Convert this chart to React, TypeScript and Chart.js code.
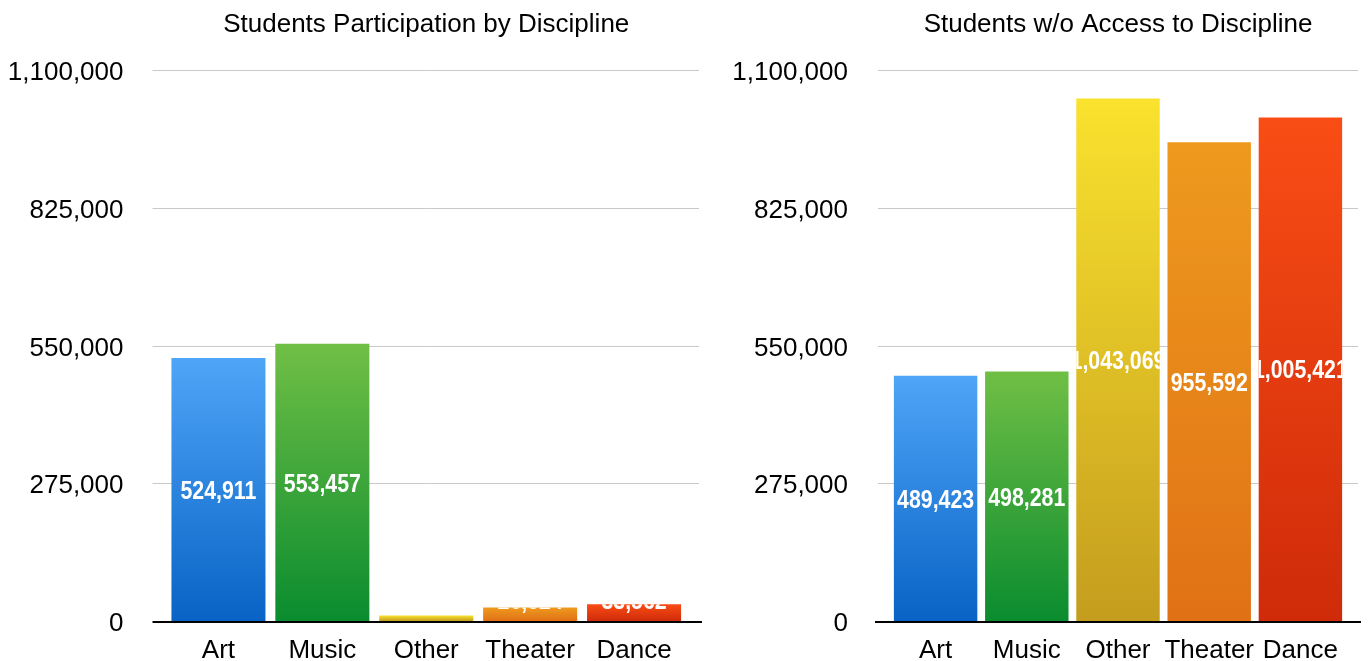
import React, { useEffect, useRef } from "react";
import { Chart, registerables } from "chart.js";

Chart.register(...registerables);

const categories = ["Art", "Music", "Other", "Theater", "Dance"];
const participationValues = [524911, 553457, 10874, 26824, 33562];
const noAccessValues = [489423, 498281, 1043069, 955592, 1005421];
const yTicks = [0, 275000, 550000, 825000, 1100000];
const leftTitle = "Students Participation by Discipline";
const rightTitle = "Students w/o Access to Discipline";
const gradientTops = ["#4FA5F7", "#70BF45", "#FAE22E", "#EE9A1E", "#F94D15"];
const gradientBottoms = ["#0863C5", "#0A8C2F", "#C49D1E", "#E07115", "#CF2B0A"];

const FONT = '"Liberation Sans", Arial, Helvetica, sans-serif';

type PanelCfg = {
  title: string;
  values: number[];
  width: number;
  yWidth: number;
  padRight: number;
  barPct: number;
  gridL: number;
  gridR: number;
  zeroL: number;
  zeroR: number;
  tickPad: number;
};

function makeDecor(cfg: PanelCfg) {
  return {
    id: "decor",
    beforeDatasetsDraw(chart: any) {
      const { ctx, chartArea } = chart;
      const y = chart.scales.y;
      ctx.save();
      ctx.strokeStyle = "#C9C9C9";
      ctx.lineWidth = 1;
      for (const t of yTicks) {
        if (t === 0) continue;
        const py = Math.round(y.getPixelForValue(t)) + 0.5;
        ctx.beginPath();
        ctx.moveTo(chartArea.left - cfg.gridL, py);
        ctx.lineTo(chartArea.right + cfg.gridR, py);
        ctx.stroke();
      }
      // y tick labels
      ctx.fillStyle = "#000";
      ctx.font = `26px ${FONT}`;
      ctx.textAlign = "right";
      ctx.textBaseline = "alphabetic";
      for (const t of yTicks) {
        const py = y.getPixelForValue(t);
        ctx.fillText(t.toLocaleString("en-US"), chartArea.left - cfg.tickPad, py + 10);
      }
      // title
      ctx.textAlign = "center";
      ctx.fillText(cfg.title, (chartArea.left + chartArea.right) / 2, 32);
      ctx.restore();
    },
    afterDatasetsDraw(chart: any) {
      const { ctx, chartArea } = chart;
      const y = chart.scales.y;
      const base = y.getPixelForValue(0);
      ctx.save();
      // zero axis line
      ctx.strokeStyle = "#000";
      ctx.lineWidth = 2;
      ctx.beginPath();
      ctx.moveTo(chartArea.left - cfg.zeroL, Math.round(base) + 1);
      ctx.lineTo(chartArea.right + cfg.zeroR, Math.round(base) + 1);
      ctx.stroke();
      // value labels, clipped to each bar
      const meta = chart.getDatasetMeta(0);
      meta.data.forEach((bar: any, i: number) => {
        const v = cfg.values[i];
        const half = bar.width / 2;
        const top = bar.y;
        const bottom = bar.base;
        ctx.save();
        ctx.beginPath();
        ctx.rect(bar.x - half, top, bar.width, bottom - top);
        ctx.clip();
        const mid = Math.min((top + bottom) / 2, chartArea.bottom - 21);
        ctx.translate(bar.x, mid + 9.3);
        ctx.scale(0.82, 1);
        ctx.fillStyle = "#FFFFFF";
        ctx.font = `bold 26px ${FONT}`;
        ctx.textAlign = "center";
        ctx.textBaseline = "alphabetic";
        ctx.fillText(v.toLocaleString("en-US"), 0, 0);
        ctx.restore();
      });
      ctx.restore();
    },
  };
}

function Panel({ cfg, left }: { cfg: PanelCfg; left: number }) {
  const ref = useRef<HTMLCanvasElement | null>(null);
  useEffect(() => {
    if (!ref.current) return;
    const chart = new Chart(ref.current, {
      type: "bar",
      data: {
        labels: categories,
        datasets: [
          {
            data: cfg.values,
            borderWidth: 0,
            barPercentage: cfg.barPct,
            categoryPercentage: 1,
            backgroundColor: (c: any) => {
              const i = c.dataIndex ?? 0;
              const chart = c.chart;
              const ys = chart.scales && chart.scales.y;
              if (!chart.chartArea || !ys || c.raw === undefined) return gradientTops[i];
              const top = ys.getPixelForValue(c.raw);
              const bottom = ys.getPixelForValue(0);
              if (!isFinite(top) || !isFinite(bottom) || bottom - top < 0.5) return gradientTops[i];
              const g = chart.ctx.createLinearGradient(0, top, 0, bottom);
              g.addColorStop(0, gradientTops[i]);
              g.addColorStop(1, gradientBottoms[i]);
              return g;
            },
          } as any,
        ],
      },
      options: {
        responsive: false,
        animation: false,
        layout: { padding: { top: 70, right: cfg.padRight, left: 0, bottom: 0 } },
        plugins: {
          legend: { display: false },
          tooltip: { enabled: false },
          title: { display: false },
        },
        scales: {
          x: {
            type: "category",
            offset: true,
            grid: { display: false, drawTicks: false },
            border: { display: false },
            ticks: {
              color: "#000",
              font: { family: FONT, size: 26 },
              padding: 14,
              maxRotation: 0,
              autoSkip: false,
            },
            afterFit: (s: any) => {
              s.height = 40;
            },
          },
          y: {
            min: 0,
            max: 1100000,
            grid: { display: false, drawTicks: false },
            border: { display: false },
            ticks: { display: false },
            afterBuildTicks: (s: any) => {
              s.ticks = yTicks.map((v) => ({ value: v }));
            },
            afterFit: (s: any) => {
              s.width = cfg.yWidth;
            },
          },
        },
      } as any,
      plugins: [makeDecor(cfg)],
    });
    return () => chart.destroy();
  }, [cfg]);
  return (
    <div style={{ position: "absolute", left, top: 0, width: cfg.width, height: 661 }}>
      <canvas ref={ref} width={cfg.width} height={661} />
    </div>
  );
}

const leftCfg: PanelCfg = {
  title: leftTitle,
  values: participationValues,
  width: 705,
  yWidth: 166.5,
  padRight: 19,
  barPct: 0.905,
  gridL: 14,
  gridR: 13,
  zeroL: 14,
  zeroR: 16,
  tickPad: 43,
};

const rightCfg: PanelCfg = {
  title: rightTitle,
  values: noAccessValues,
  width: 666,
  yWidth: 185,
  padRight: 25,
  barPct: 0.915,
  gridL: 12,
  gridR: 12,
  zeroL: 15,
  zeroR: 15,
  tickPad: 42,
};

export default function App() {
  return (
    <div style={{ position: "absolute", left: 0, top: 0, width: 1371, height: 661, background: "#fff" }}>
      <Panel cfg={leftCfg} left={0} />
      <Panel cfg={rightCfg} left={705} />
    </div>
  );
}
